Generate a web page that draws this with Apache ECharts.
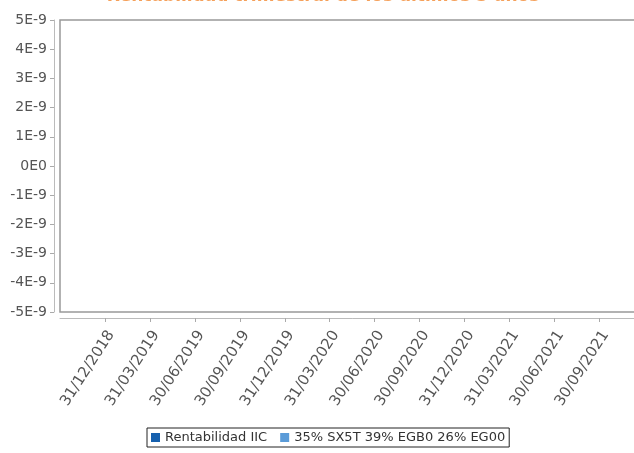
<!DOCTYPE html>
<html>
<head>
<meta charset="utf-8">
<script src="https://cdn.jsdelivr.net/npm/echarts@6/dist/echarts.min.js"></script>
<style>
html,body{margin:0;padding:0;background:#fff;overflow:hidden;}
#chart{width:646px;height:453px;}
</style>
</head>
<body>
<div id="chart"></div>
<script>
const titleText = 'Rentabilidad trimestral de los últimos 3 años';
const categories = ['31/12/2018','31/03/2019','30/06/2019','30/09/2019','31/12/2019','31/03/2020','30/06/2020','30/09/2020','31/12/2020','31/03/2021','30/06/2021','30/09/2021'];
const seriesNames = ['Rentabilidad IIC','35% SX5T 39% EGB0 26% EG00'];
const rentabilidadIIC = [];
const benchmark = [];
const yMin = -5e-9, yMax = 5e-9, yStep = 1e-9;

const axisCats = [''].concat(categories, ['']);
const chart = echarts.init(document.getElementById('chart'), null, {renderer:'canvas'});
chart.setOption({
  backgroundColor:'#fff',
  animation:false,
  textStyle:{fontFamily:'DejaVu Sans'},
  title:{
    text:titleText, left:'center', top:-17,
    textStyle:{color:'#f5a05a', fontSize:17, fontWeight:'bold', fontFamily:'DejaVu Sans'}
  },
  legend:{
    data:seriesNames, left:147, top:428,
    icon:'rect', itemWidth:9, itemHeight:9, itemGap:13,
    borderColor:'#222', borderWidth:1, padding:[3,4],
    textStyle:{fontSize:13, color:'#333', fontFamily:'DejaVu Sans'}
  },
  grid:{
    left:60, top:20, right:0, bottom:141, containLabel:false,
    show:true, borderColor:'#999', borderWidth:1.5, backgroundColor:'#fff'
  },
  xAxis:{
    type:'category', data:axisCats, boundaryGap:false, offset:6, position:'bottom',
    axisLine:{show:true, onZero:false, lineStyle:{color:'#bbb', width:1}},
    axisTick:{show:true, length:4, interval:function(i,v){return v!=='';}, lineStyle:{color:'#aaa'}},
    axisLabel:{interval:0, rotate:57, fontSize:15, color:'#555', margin:10, verticalAlign:'top'},
    splitLine:{show:false}
  },
  yAxis:{
    type:'value', min:yMin, max:yMax, interval:yStep, offset:6,
    axisLine:{show:true, lineStyle:{color:'#bbb', width:1}},
    axisTick:{show:true, length:4, lineStyle:{color:'#aaa'}},
    axisLabel:{fontSize:14, color:'#555', margin:7,
      formatter:function(v){const k=Math.round(v/yStep);return k===0?'0E0':k+'E-9';}},
    splitLine:{show:false}
  },
  series:[
    {name:seriesNames[0], type:'bar', data:rentabilidadIIC, itemStyle:{color:'#1660ae'}},
    {name:seriesNames[1], type:'bar', data:benchmark, itemStyle:{color:'#5a9bd8'}}
  ]
});
</script>
</body>
</html>
